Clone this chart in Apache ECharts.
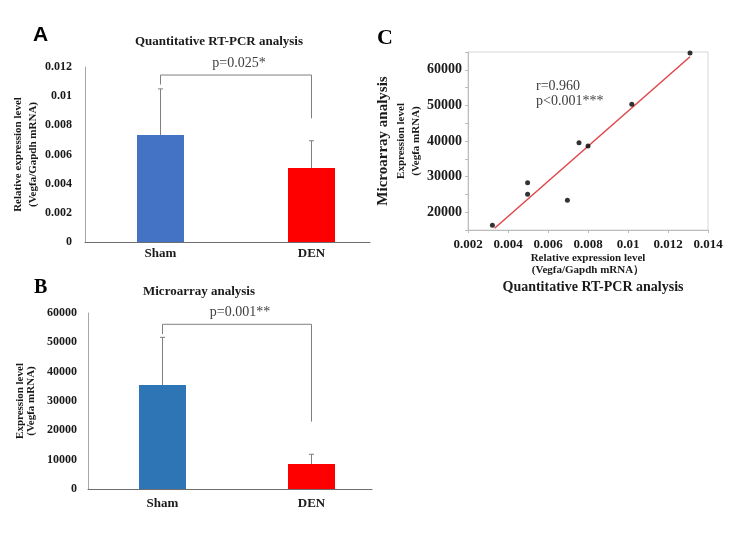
<!DOCTYPE html>
<html><head><meta charset="utf-8">
<script src="https://cdn.jsdelivr.net/npm/echarts@6/dist/echarts.min.js"></script>
<style>html,body{margin:0;padding:0;background:#fff}#c{width:750px;height:538px}</style>
</head><body><div id="c"></div>
<script>
// ---- Data ----
const categories = ['Sham', 'DEN'];
// Panel A: quantitative RT-PCR (Vegfa/Gapdh mRNA)
const pcrMeans = [0.00734, 0.00507];
const pcrErrTop = [0.0105, 0.00694];
const pcrBracket = [0.0108, 0.01145, 0.00848]; // left end, top, right end
const pcrPLabel = 'p=0.025*';
const pcrTicks = [0, 0.012, 0.002]; // min, max, interval
// Panel B: microarray (Vegfa mRNA)
const arrMeans = [35450, 8520];
const arrErrTop = [51700, 11830];
const arrBracket = [52840, 56150, 22950];
const arrPLabel = 'p=0.001**';
const arrTicks = [0, 60000, 10000];
// Panel C: correlation
const corrX = [0.00322, 0.00498, 0.00498, 0.00697, 0.00755, 0.0080, 0.01019, 0.0131];
const corrY = [16320, 28290, 25030, 23340, 39520, 38600, 50300, 64700];
const trendX = [0.00333, 0.0131];
const trendY = [15500, 63650];
const corrXTicks = [0.002, 0.014, 0.002];
const corrYTicks = [15000, 65000, 5000];
const corrText = ['r=0.960', 'p<0.001***'];

const SERIF = '"Liberation Serif", "Times New Roman", serif';
const colorsA = ['#4472C4', '#FF0000'];
const colorsB = ['#2E75B6', '#FF0000'];

function errBarItem(errTops) {
  return function (params, api) {
    const i = api.value(0);
    const base = api.coord([i, api.value(1)]);
    const top = api.coord([i, errTops[i]]);
    return {
      type: 'group', children: [
        { type: 'line', shape: { x1: base[0], y1: base[1], x2: top[0], y2: top[1] }, style: { stroke: '#7f7f7f', lineWidth: 1 } },
        { type: 'line', shape: { x1: top[0] - 2.5, y1: top[1], x2: top[0] + 2.5, y2: top[1] }, style: { stroke: '#7f7f7f', lineWidth: 1 } }
      ]
    };
  };
}
function bracketItem(br, label) {
  return function (params, api) {
    const p1 = api.coord([0, br[0]]);
    const p2 = api.coord([0, br[1]]);
    const p3 = api.coord([1, br[1]]);
    const p4 = api.coord([1, br[2]]);
    return {
      type: 'group', children: [
        { type: 'polyline', shape: { points: [p1, p2, p3, p4] }, style: { stroke: '#7f7f7f', lineWidth: 1, fill: null } },
        { type: 'text', x: (p2[0] + p3[0]) / 2 + 3, y: p2[1] - 5, style: { text: label, font: '14px ' + SERIF, fill: '#404040', textAlign: 'center', textVerticalAlign: 'bottom' } }
      ]
    };
  };
}

const axisLabelStyle = { fontFamily: SERIF, fontWeight: 'bold', color: '#1a1a1a' };
const plain = v => String(v);

const option = {
  animation: false,
  title: [
    { text: 'Quantitative RT-PCR analysis', left: 214, top: 30, textAlign: 'center', textStyle: { fontFamily: SERIF, fontWeight: 'bold', fontSize: 13, color: '#1a1a1a' } },
    { text: 'Microarray analysis', left: 194, top: 280, textAlign: 'center', textStyle: { fontFamily: SERIF, fontWeight: 'bold', fontSize: 13, color: '#1a1a1a' } }
  ],
  graphic: [
    { type: 'text', left: 33, top: 25, style: { text: 'A', font: 'bold 21px "Liberation Sans", sans-serif', fill: '#000' } },
    { type: 'text', left: 34, top: 278, style: { text: 'B', font: 'bold 20px ' + SERIF, fill: '#000' } },
    { type: 'text', left: 377, top: 27, style: { text: 'C', font: 'bold 22px ' + SERIF, fill: '#000' } },
    { type: 'text', left: 536, top: 79, style: { text: corrText[0] + '\n' + corrText[1], font: '14px ' + SERIF, fill: '#404040', lineHeight: 15 } }
  ],
  grid: [
    { left: 85, top: 67, width: 302, height: 175 },
    { left: 85, top: 67, width: 285, height: 175 },
    { left: 88, top: 313, width: 298, height: 176 },
    { left: 88, top: 313, width: 284, height: 176 },
    { left: 468, top: 52, width: 240, height: 178, show: true, borderColor: '#d6d6d6', borderWidth: 1 }
  ],
  xAxis: [
    { gridIndex: 0, type: 'category', data: categories, axisLine: { show: false }, axisTick: { show: false }, axisLabel: Object.assign({ fontSize: 13, margin: 5 }, axisLabelStyle) },
    { gridIndex: 1, type: 'value', min: 0, max: 1, axisLine: { show: true, lineStyle: { color: '#6e6e6e' } }, axisTick: { show: false }, axisLabel: { show: false }, splitLine: { show: false } },
    { gridIndex: 2, type: 'category', data: categories, axisLine: { show: false }, axisTick: { show: false }, axisLabel: Object.assign({ fontSize: 13, margin: 8 }, axisLabelStyle) },
    { gridIndex: 3, type: 'value', min: 0, max: 1, axisLine: { show: true, lineStyle: { color: '#6e6e6e' } }, axisTick: { show: false }, axisLabel: { show: false }, splitLine: { show: false } },
    { gridIndex: 4, type: 'value', min: corrXTicks[0], max: corrXTicks[1], interval: corrXTicks[2],
      axisLine: { show: true, lineStyle: { color: '#bdbdbd' } }, axisTick: { show: true, length: 3, lineStyle: { color: '#bdbdbd' } },
      axisLabel: Object.assign({ fontSize: 13, margin: 8, formatter: plain }, axisLabelStyle), splitLine: { show: false },
      name: '{b|Relative expression level}\n{b|(Vegfa/Gapdh mRNA\uFF09}\n{a|Quantitative RT-PCR analysis}',
      nameLocation: 'middle', nameGap: 22,
      nameTextStyle: { align: 'center', rich: {
        b: { fontFamily: SERIF, fontWeight: 'bold', fontSize: 11, color: '#1a1a1a', lineHeight: 12, align: 'center' },
        a: { fontFamily: SERIF, fontWeight: 'bold', fontSize: 14, color: '#1a1a1a', lineHeight: 22, align: 'center', padding: [0, 0, 0, 10] }
      } } }
  ],
  yAxis: [
    { gridIndex: 0, type: 'value', min: pcrTicks[0], max: pcrTicks[1], interval: pcrTicks[2],
      axisLine: { show: true, lineStyle: { color: '#a6a6a6' } }, axisTick: { show: false }, splitLine: { show: false },
      axisLabel: Object.assign({ fontSize: 12, margin: 13, formatter: plain }, axisLabelStyle),
      name: 'Relative expression level\n(Vegfa/Gapdh mRNA)', nameLocation: 'middle', nameRotate: 90, nameGap: 43,
      nameTextStyle: { fontFamily: SERIF, fontWeight: 'bold', fontSize: 11, color: '#1a1a1a', lineHeight: 15 } },
    { gridIndex: 1, type: 'value', show: false, min: 0, max: 1 },
    { gridIndex: 2, type: 'value', min: arrTicks[0], max: arrTicks[1], interval: arrTicks[2],
      axisLine: { show: true, lineStyle: { color: '#a6a6a6' } }, axisTick: { show: false }, splitLine: { show: false },
      axisLabel: Object.assign({ fontSize: 12, margin: 11, formatter: plain }, axisLabelStyle),
      name: 'Expression level\n(Vegfa mRNA)', nameLocation: 'middle', nameRotate: 90, nameGap: 51,
      nameTextStyle: { fontFamily: SERIF, fontWeight: 'bold', fontSize: 11, color: '#1a1a1a', lineHeight: 11 } },
    { gridIndex: 3, type: 'value', show: false, min: 0, max: 1 },
    { gridIndex: 4, type: 'value', min: corrYTicks[0], max: corrYTicks[1], interval: corrYTicks[2],
      axisLine: { show: true, lineStyle: { color: '#bdbdbd' } }, axisTick: { show: true, length: 3, lineStyle: { color: '#bdbdbd' } },
      splitLine: { show: false },
      axisLabel: Object.assign({ fontSize: 14, margin: 6, formatter: v => (v % 10000 === 0 && v >= 20000 && v <= 60000) ? String(v) : '' }, axisLabelStyle),
      name: '{a|Microarray analysis}\n{b|Expression level}\n{b|(Vegfa mRNA)}', nameLocation: 'middle', nameRotate: 90, nameGap: 44,
      nameTextStyle: { rich: {
        a: { fontFamily: SERIF, fontWeight: 'bold', fontSize: 15, color: '#1a1a1a', lineHeight: 22 },
        b: { fontFamily: SERIF, fontWeight: 'bold', fontSize: 11, color: '#1a1a1a', lineHeight: 15 }
      } } }
  ],
  series: [
    { type: 'bar', xAxisIndex: 0, yAxisIndex: 0, barWidth: 47, data: pcrMeans.map((v, i) => ({ value: v, itemStyle: { color: colorsA[i] } })) },
    { type: 'custom', xAxisIndex: 0, yAxisIndex: 0, renderItem: errBarItem(pcrErrTop), data: pcrMeans.map((v, i) => [i, v]), z: 3 },
    { type: 'custom', xAxisIndex: 0, yAxisIndex: 0, renderItem: bracketItem(pcrBracket, pcrPLabel), data: [[0, 0]], z: 3 },
    { type: 'bar', xAxisIndex: 2, yAxisIndex: 2, barWidth: 47, data: arrMeans.map((v, i) => ({ value: v, itemStyle: { color: colorsB[i] } })) },
    { type: 'custom', xAxisIndex: 2, yAxisIndex: 2, renderItem: errBarItem(arrErrTop), data: arrMeans.map((v, i) => [i, v]), z: 3 },
    { type: 'custom', xAxisIndex: 2, yAxisIndex: 2, renderItem: bracketItem(arrBracket, arrPLabel), data: [[0, 0]], z: 3 },
    { type: 'line', xAxisIndex: 4, yAxisIndex: 4, data: trendX.map((x, i) => [x, trendY[i]]), symbol: 'none', lineStyle: { color: '#e0464b', width: 1.5 }, z: 2 },
    { type: 'scatter', xAxisIndex: 4, yAxisIndex: 4, data: corrX.map((x, i) => [x, corrY[i]]), symbolSize: 5, itemStyle: { color: '#000' }, z: 3 }
  ]
};
echarts.init(document.getElementById('c'), null, { renderer: 'canvas' }).setOption(option);
</script></body></html>
